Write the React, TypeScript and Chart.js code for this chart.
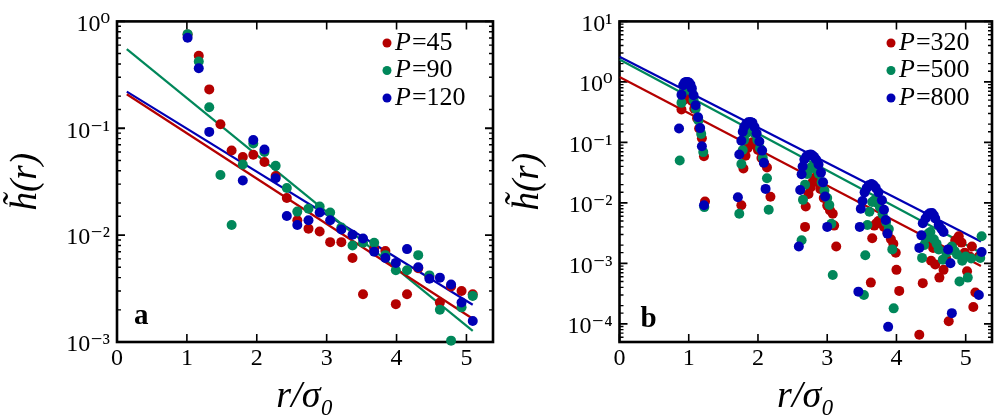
import React, { useEffect, useRef } from 'react';
import { Chart, registerables } from 'chart.js';
Chart.register(...registerables);

const FONT = '"Liberation Serif", "DejaVu Serif", serif';
const RED = '#b40000';
const GREEN = '#00875a';
const BLUE = '#0000b4';

// ---------- Panel a ----------
const aR = [1.01, 1.17, 1.32, 1.48, 1.64, 1.80, 1.95, 2.11, 2.27, 2.43, 2.58, 2.74, 2.90, 3.05, 3.21, 3.37, 3.52, 3.68, 3.84, 3.99, 4.15, 4.31, 4.47, 4.62, 4.78, 4.93, 5.09];
const aP45 = [0.755, 0.477, 0.231, 0.109, 0.062, 0.0538, 0.0565, 0.0484, 0.0357, 0.0223, 0.0138, 0.0115, 0.0108, 0.0086, 0.0086, 0.0061, 0.0028, 0.0075, 0.0071, 0.00226, 0.0028, 0.0049, 0.0041, 0.00234, 0.0033, 0.003, 0.0028];
const aP90 = [0.76, 0.421, 0.157, 0.0365, 0.01245, 0.0458, 0.072, 0.06, 0.0445, 0.0276, 0.0166, 0.0177, 0.0185, 0.0163, 0.0118, 0.008, 0.0085, 0.0085, 0.0065, 0.0047, 0.0047, 0.0065, 0.0042, 0.002, 0.00103, 0.00211, 0.0027];
const aP120 = [0.703, 0.365, 0.0925, null, null, 0.0324, 0.0776, 0.0633, 0.034, 0.0151, 0.01245, 0.0138, 0.0163, 0.0138, 0.0113, 0.0101, 0.0093, 0.007, 0.0061, 0.0055, 0.0074, 0.005, 0.0039, 0.004, 0.00345, 0.00234, 0.00157];
const aFitR = [0.14, 5.09];
const aFit45 = [0.208, 0.00165];
const aFit90 = [0.55, 0.00127];
const aFit120 = [0.22, 0.00223];
const aLabels = ['P=45', 'P=90', 'P=120'];

// ---------- Panel b ----------
const bR320 = [0.895, 0.93, 0.96, 0.99, 1.02, 1.05, 1.08, 1.12, 1.15, 1.19, 1.22, 1.235,
  1.76, 1.79, 1.82, 1.85, 1.88, 1.92, 1.96, 2.0, 2.05, 2.09, 2.13, 2.18,
  2.68, 2.69, 2.73, 2.76, 2.79, 2.82, 2.86, 2.9, 2.95, 3.0, 3.04, 3.08, 3.10, 3.13,
  3.63, 3.65, 3.68, 3.71, 3.74, 3.77, 3.82, 3.87, 3.92, 3.955, 3.99, 4.0, 4.04,
  4.33, 4.38, 4.45, 4.50, 4.53, 4.56, 4.62, 4.68, 4.72, 4.755, 4.80, 4.85, 4.90, 4.94, 4.985, 5.02, 5.06, 5.09, 5.11, 5.14, 5.19];
const bP320 = [0.35, 0.5, 0.6, 0.62, 0.58, 0.48, 0.36, 0.25, 0.17, 0.117, 0.059, 0.0105,
  0.0091, 0.037, 0.06, 0.08, 0.095, 0.1, 0.09, 0.075, 0.055, 0.045, 0.0385, 0.0126,
  0.004, 0.0087, 0.014, 0.018, 0.022, 0.026, 0.022, 0.017, 0.012, 0.009, 0.0075, 0.0066, 0.0042, 0.0019,
  0.00048, 0.0026, 0.0042, 0.0046, 0.005, 0.0046, 0.004, 0.0032, 0.0025, 0.0021, 0.0015, 0.00078, 0.00035,
  0.000066, 0.00047, 0.0022, 0.0011, 0.0018, 0.00096, 0.00058, 0.00078, 0.0012, 0.00011, 0.0019, 0.0024, 0.0028, 0.0022, 0.0015, 0.00074, 0.0013, 0.0019, 0.00019, 0.00033, 0.0013];

const bR500 = [0.87, 0.895, 0.92, 0.95, 0.98, 1.01, 1.04, 1.07, 1.10, 1.14, 1.18, 1.21, 1.225,
  1.73, 1.76, 1.78, 1.80, 1.83, 1.87, 1.91, 1.95, 1.99, 2.03, 2.07, 2.13, 2.155,
  2.63, 2.65, 2.68, 2.71, 2.74, 2.77, 2.80, 2.84, 2.88, 2.92, 2.96, 3.0, 3.03, 3.06, 3.08,
  3.53, 3.55, 3.58, 3.61, 3.65, 3.68, 3.72, 3.76, 3.80, 3.85, 3.89, 3.94, 3.96,
  4.37, 4.40, 4.42, 4.46, 4.49, 4.54, 4.58, 4.61, 4.67, 4.72, 4.76, 4.80, 4.84, 4.875, 4.91, 4.95, 5.0, 5.03, 5.08, 5.21, 5.23];
const bP500 = [0.05, 0.45, 0.68, 0.85, 0.88, 0.83, 0.7, 0.5, 0.36, 0.23, 0.138, 0.069, 0.0085,
  0.0066, 0.044, 0.075, 0.11, 0.14, 0.16, 0.16, 0.14, 0.11, 0.08, 0.055, 0.0255, 0.0077,
  0.0024, 0.0112, 0.02, 0.03, 0.036, 0.039, 0.04, 0.036, 0.03, 0.022, 0.016, 0.012, 0.0092, 0.0045, 0.00064,
  0.0003, 0.00136, 0.0043, 0.0071, 0.0103, 0.011, 0.01, 0.0085, 0.0065, 0.0048, 0.0037, 0.0017, 0.00018,
  0.00123, 0.002, 0.0026, 0.0031, 0.0033, 0.0025, 0.0021, 0.0017, 0.00115, 0.0015, 0.0017, 0.0019, 0.0016, 0.0014, 0.0005, 0.0011, 0.0013, 0.00058, 0.0012, 0.00123, 0.0028];

const bR800 = [0.86, 0.895, 0.92, 0.94, 0.96, 0.985, 1.005, 1.025, 1.045, 1.07, 1.10, 1.135, 1.165, 1.19, 1.22,
  1.71, 1.73, 1.76, 1.78, 1.80, 1.83, 1.86, 1.89, 1.92, 1.95, 1.98, 2.02, 2.06, 2.085, 2.11,
  2.59, 2.61, 2.63, 2.645, 2.67, 2.70, 2.73, 2.76, 2.78, 2.81, 2.84, 2.875, 2.91, 2.94, 2.97, 3.0,
  3.45, 3.47, 3.485, 3.51, 3.54, 3.57, 3.60, 3.64, 3.67, 3.70, 3.74, 3.79, 3.82, 3.845, 3.87, 3.88,
  4.33, 4.36, 4.38, 4.42, 4.45, 4.48, 4.515, 4.54, 4.56, 4.61, 4.65, 4.68, 4.745, 4.78, 4.80, 5.19, 5.23];
const bP800 = [0.17, 0.61, 0.88, 0.97, 1.0, 1.0, 0.97, 0.9, 0.78, 0.6, 0.41, 0.26, 0.172, 0.086, 0.0091,
  0.0124, 0.063, 0.106, 0.15, 0.18, 0.2, 0.215, 0.218, 0.21, 0.18, 0.141, 0.103, 0.073, 0.046, 0.017,
  0.0019, 0.0163, 0.0296, 0.04, 0.052, 0.059, 0.062, 0.063, 0.062, 0.058, 0.052, 0.043, 0.0316, 0.0218, 0.0127, 0.004,
  0.00034, 0.004, 0.008, 0.0107, 0.0149, 0.0175, 0.0195, 0.0204, 0.0195, 0.0178, 0.0149, 0.011, 0.0077, 0.0052, 0.0031, 0.000089,
  0.0018, 0.0029, 0.0046, 0.0055, 0.0063, 0.0067, 0.0068, 0.0062, 0.0055, 0.0043, 0.0037, 0.0033, 0.0017, 0.001, 0.00015, 0.0003, 0.00154];

const bFitR = [0, 5.22];
const bFit320 = [1.2, 0.0009];
const bFit500 = [2.34, 0.0015];
const bFit800 = [2.6, 0.0023];
const bLabels = ['P=320', 'P=500', 'P=800'];

const SUP: Record<string, string> = { '0': '⁰', '1': '¹', '2': '²', '3': '³', '4': '⁴', '5': '⁵', '-': '⁻' };
const sup = (s: string) => s.split('').map((c) => SUP[c] || c).join('');

const pts = (xs: number[], ys: (number | null)[]) =>
  xs.map((x, i) => ({ x, y: ys[i] })).filter((p) => p.y != null);

const frameTicks = {
  id: 'frameTicks',
  beforeDatasetsDraw(chart: any) {
    const { ctx, chartArea } = chart;
    const { left, right, top, bottom } = chartArea;
    const xs = chart.scales.x;
    const ys = chart.scales.y;
    ctx.save();
    ctx.strokeStyle = '#000';
    ctx.lineWidth = 1.6;
    for (const t of xs.ticks) {
      const px = xs.getPixelForValue(t.value);
      ctx.beginPath();
      ctx.moveTo(px, bottom);
      ctx.lineTo(px, bottom - 8);
      ctx.moveTo(px, top);
      ctx.lineTo(px, top + 8);
      ctx.stroke();
    }
    for (const t of ys.ticks) {
      const py = ys.getPixelForValue(t.value);
      const l = Math.log10(t.value);
      const major = Math.abs(l - Math.round(l)) < 1e-6;
      const len = major ? 8 : 4;
      ctx.lineWidth = major ? 1.8 : 1.4;
      ctx.beginPath();
      ctx.moveTo(left, py);
      ctx.lineTo(left + len, py);
      ctx.moveTo(right, py);
      ctx.lineTo(right - len, py);
      ctx.stroke();
    }
    ctx.lineWidth = 2.6;
    ctx.strokeRect(left, top, right - left, bottom - top);
    ctx.restore();
  },
};

const innerLegend = {
  id: 'innerLegend',
  afterDraw(chart: any, _args: any, opts: any) {
    const { ctx } = chart;
    const items = chart.data.datasets.filter((d: any) => d.inLegend);
    ctx.save();
    items.forEach((d: any, i: number) => {
      const y = opts.y + i * opts.dy;
      ctx.fillStyle = d.backgroundColor;
      ctx.beginPath();
      ctx.arc(opts.x, y, 4.5, 0, Math.PI * 2);
      ctx.fill();
      const [lhs, rhs] = String(d.label).split('=');
      ctx.fillStyle = '#000';
      ctx.textBaseline = 'middle';
      ctx.textAlign = 'left';
      ctx.font = `italic 26px ${FONT}`;
      let tx = opts.x + 8;
      ctx.fillText(lhs, tx, y);
      tx += ctx.measureText(lhs).width + 1;
      ctx.font = `26px ${FONT}`;
      ctx.fillText('=' + rhs, tx, y);
    });
    ctx.restore();
  },
};

const panelLabel = {
  id: 'panelLabel',
  afterDraw(chart: any, _args: any, opts: any) {
    const { ctx, chartArea } = chart;
    ctx.save();
    ctx.fillStyle = '#000';
    ctx.font = `bold 29px ${FONT}`;
    ctx.textBaseline = 'alphabetic';
    ctx.textAlign = 'left';
    ctx.fillText(opts.text, chartArea.left + opts.dx, chartArea.bottom - opts.dy);
    ctx.restore();
  },
};

function buildConfig(p: any) {
  const scatter = (label: string, xs: number[], ys: any[], color: string, order: number) => ({
    type: 'scatter',
    label,
    inLegend: true,
    data: pts(xs, ys),
    backgroundColor: color,
    borderWidth: 0,
    pointRadius: 5,
    pointHoverRadius: 5,
    showLine: false,
    clip: false,
    order,
  });
  const fit = (xs: number[], ys: number[], color: string) => ({
    type: 'line',
    label: '',
    inLegend: false,
    data: pts(xs, ys),
    borderColor: color,
    backgroundColor: color,
    borderWidth: 2.2,
    pointRadius: 0,
    fill: false,
    tension: 0,
    order: 10,
  });
  return {
    type: 'scatter',
    data: {
      datasets: [
        scatter(p.labels[0], p.s[0][0], p.s[0][1], RED, 3),
        scatter(p.labels[1], p.s[1][0], p.s[1][1], GREEN, 2),
        scatter(p.labels[2], p.s[2][0], p.s[2][1], BLUE, 1),
        fit(p.fitR, p.fits[0], RED),
        fit(p.fitR, p.fits[1], GREEN),
        fit(p.fitR, p.fits[2], BLUE),
      ],
    },
    options: {
      responsive: false,
      animation: false,
      events: [],
      layout: { padding: { left: 0, top: 15, right: p.padRight, bottom: 0 } },
      plugins: {
        legend: { display: false },
        tooltip: { enabled: false },
        innerLegend: { x: p.legX, y: 43, dy: 27.5 },
        panelLabel: { text: p.letter, dx: p.letterDx, dy: p.letterDy },
      },
      scales: {
        x: {
          type: 'linear',
          position: 'bottom',
          min: 0,
          max: 5.38,
          grid: { display: false, drawTicks: false },
          border: { display: false },
          ticks: {
            stepSize: 1,
            includeBounds: false,
            padding: 2,
            color: '#000',
            font: { family: FONT, size: 24 },
            callback: (v: any) => String(v),
          },
          title: {
            display: true,
            text: 'r/σ₀',
            color: '#000',
            font: { family: FONT, size: 38, style: 'italic' },
            padding: { top: 0, bottom: 0 },
          },
          afterFit: (s: any) => { s.height = 78; },
        },
        y: {
          type: 'logarithmic',
          position: 'left',
          min: p.yMin,
          max: p.yMax,
          grid: { display: false, drawTicks: false },
          border: { display: false },
          ticks: {
            autoSkip: false,
            padding: 7,
            labelOffset: 3,
            color: '#000',
            font: { family: FONT, size: 24 },
            callback: (v: any) => {
              const l = Math.log10(v);
              const r = Math.round(l);
              if (Math.abs(l - r) > 1e-6) return '';
              return '10' + sup(String(r));
            },
          },
          title: {
            display: true,
            text: 'h\u0303(r)',
            color: '#000',
            font: { family: FONT, size: 37, style: 'italic' },
            padding: { top: p.yTitlePad, bottom: 0 },
          },
          afterFit: (s: any) => { s.width = p.yWidth; },
        },
      },
    },
    plugins: [frameTicks, innerLegend, panelLabel],
  };
}

function Panel(props: { cfg: any; left: number; width: number }) {
  const ref = useRef<HTMLCanvasElement | null>(null);
  useEffect(() => {
    if (!ref.current) return;
    const chart = new Chart(ref.current, buildConfig(props.cfg) as any);
    return () => chart.destroy();
  }, []);
  return (
    <canvas
      ref={ref}
      width={props.width}
      height={420}
      style={{ position: 'absolute', left: props.left, top: 0, width: props.width, height: 420 }}
    />
  );
}

const cfgA = {
  labels: aLabels,
  s: [[aR, aP45], [aR, aP90], [aR, aP120]],
  fitR: aFitR,
  fits: [aFit45, aFit90, aFit120],
  yMin: 1e-3,
  yMax: 1,
  yWidth: 117,
  padRight: 7,
  yTitlePad: 4,
  legX: 387,
  letter: 'a',
  letterDx: 17,
  letterDy: 18,
};

const cfgB = {
  labels: bLabels,
  s: [[bR320, bP320], [bR500, bP500], [bR800, bP800]],
  fitR: bFitR,
  fits: [bFit320, bFit500, bFit800],
  yMin: 5e-5,
  yMax: 10,
  yWidth: 119.5,
  padRight: 3.7,
  yTitlePad: 6,
  legX: 391,
  letter: 'b',
  letterDx: 21,
  letterDy: 15,
};

export default function App() {
  return (
    <div style={{ position: 'fixed', left: 0, top: 0, width: 997, height: 420, background: '#fff' }}>
      <Panel cfg={cfgA} left={0} width={500} />
      <Panel cfg={cfgB} left={500} width={497} />
    </div>
  );
}
